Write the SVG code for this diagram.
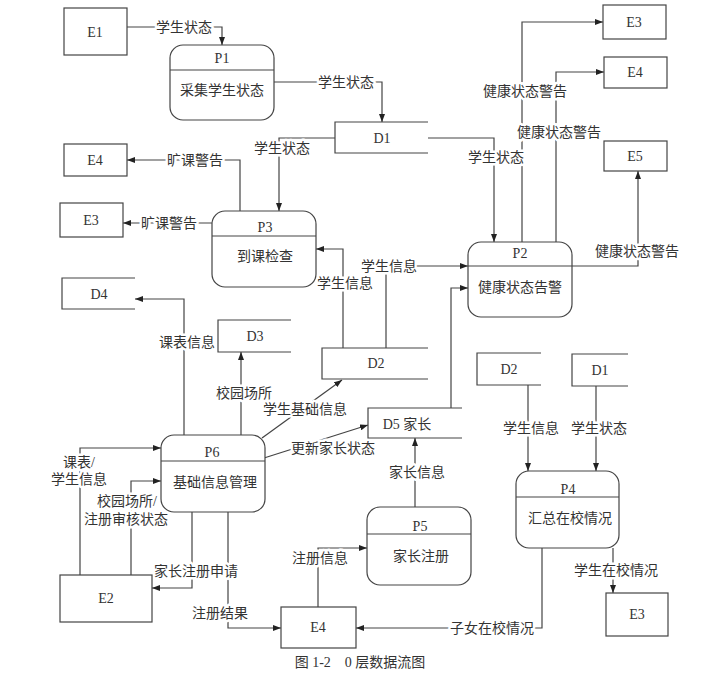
<svg xmlns="http://www.w3.org/2000/svg" width="725" height="674" viewBox="0 0 725 674">
<defs>
<marker id="arr" markerWidth="8" markerHeight="6" refX="8" refY="3" orient="auto" markerUnits="userSpaceOnUse">
<path d="M0,0 L8,3 L0,6 z" fill="#222"/>
</marker>
<style>
.box{fill:#fff;stroke:#444;stroke-width:1.2}
.line{fill:none;stroke:#444;stroke-width:1.2}
.conn{fill:none;stroke:#444;stroke-width:1.2;marker-end:url(#arr)}
text{font-family:"Liberation Serif","Noto Sans CJK SC",serif;font-size:14px;fill:#333;text-anchor:middle}
.lbl{stroke:#fff;stroke-width:5px;paint-order:stroke;stroke-linejoin:round}
</style>
</defs>
<rect width="725" height="674" fill="#fff"/>

<g id="connectors">
<path class="conn" d="M127,27 H222 V45"/>
<path class="conn" d="M274,82 H382 V122"/>
<path class="conn" d="M335,138 H279 V211"/>
<path class="conn" d="M428,138 H494 V242"/>
<path class="conn" d="M522,242 V22 H603"/>
<path class="conn" d="M556,242 V72 H604"/>
<path class="conn" d="M572,266 H638 V171"/>
<path class="conn" d="M240,211 V160 H127"/>
<path class="conn" d="M212,223 H123"/>
<path class="conn" d="M343,348 V249 H316"/>
<path class="conn" d="M386,348 V266 H468"/>
<path class="conn" d="M451,408 V288 H468"/>
<path class="conn" d="M184,435 V299 H135"/>
<path class="conn" d="M241,435 V352"/>
<path class="conn" d="M262,438 L342,380"/>
<path class="conn" d="M264,458 L368,425"/>
<path class="conn" d="M80,575 V448 H161"/>
<path class="conn" d="M131,575 V481 H161"/>
<path class="conn" d="M192,512 V588 H152"/>
<path class="conn" d="M228,512 V628 H281"/>
<path class="conn" d="M318,607 V548 H367"/>
<path class="conn" d="M415,507 V438"/>
<path class="conn" d="M528,385 V471"/>
<path class="conn" d="M596,386 V471"/>
<path class="conn" d="M542,548 V628 H356"/>
<path class="conn" d="M613,548 V593"/>

<text class="lbl" x="184" y="27" dy=".35em">学生状态</text>
<text class="lbl" x="346" y="82" dy=".35em">学生状态</text>
<text class="lbl" x="282" y="148" dy=".35em">学生状态</text>
<text class="lbl" x="496" y="157" dy=".35em">学生状态</text>
<text class="lbl" x="525" y="91" dy=".35em">健康状态警告</text>
<text class="lbl" x="559" y="132" dy=".35em">健康状态警告</text>
<text class="lbl" x="637" y="251" dy=".35em">健康状态警告</text>
<text class="lbl" x="195" y="160" dy=".35em">旷课警告</text>
<text class="lbl" x="169" y="223" dy=".35em">旷课警告</text>
<text class="lbl" x="345" y="283" dy=".35em">学生信息</text>
<text class="lbl" x="389" y="266" dy=".35em">学生信息</text>
<text class="lbl" x="187" y="342" dy=".35em">课表信息</text>
<text class="lbl" x="244" y="393" dy=".35em">校园场所</text>
<text class="lbl" x="305" y="409" dy=".35em">学生基础信息</text>
<text class="lbl" x="333" y="448" dy=".35em">更新家长状态</text>
<text class="lbl" x="79" y="462" dy=".35em">课表/</text>
<text class="lbl" x="79" y="479" dy=".35em">学生信息</text>
<text class="lbl" x="127" y="501" dy=".35em">校园场所/</text>
<text class="lbl" x="126" y="519" dy=".35em">注册审核状态</text>
<text class="lbl" x="196" y="571" dy=".35em">家长注册申请</text>
<text class="lbl" x="220" y="613" dy=".35em">注册结果</text>
<text class="lbl" x="320" y="558" dy=".35em">注册信息</text>
<text class="lbl" x="417" y="472" dy=".35em">家长信息</text>
<text class="lbl" x="531" y="428" dy=".35em">学生信息</text>
<text class="lbl" x="599" y="428" dy=".35em">学生状态</text>
<text class="lbl" x="492" y="628" dy=".35em">子女在校情况</text>
<text class="lbl" x="616" y="570" dy=".35em">学生在校情况</text>
</g>

<g id="E1"><rect class="box" x="64" y="8" width="63" height="47"/><text x="95" y="32" dy=".35em">E1</text></g>
<g id="E3a"><rect class="box" x="603" y="5" width="63" height="34"/><text x="634" y="22" dy=".35em">E3</text></g>
<g id="E4a"><rect class="box" x="604" y="57" width="63" height="31"/><text x="635" y="72" dy=".35em">E4</text></g>
<g id="E5"><rect class="box" x="604" y="141" width="63" height="30"/><text x="635" y="156" dy=".35em">E5</text></g>
<g id="E4b"><rect class="box" x="64" y="144" width="63" height="32"/><text x="95" y="160" dy=".35em">E4</text></g>
<g id="E3b"><rect class="box" x="60" y="203" width="63" height="34"/><text x="91" y="220" dy=".35em">E3</text></g>
<g id="E2"><rect class="box" x="60" y="575" width="92" height="47"/><text x="106" y="598" dy=".35em">E2</text></g>
<g id="E4c"><rect class="box" x="281" y="607" width="75" height="41"/><text x="318" y="627" dy=".35em">E4</text></g>
<g id="E3c"><rect class="box" x="606" y="593" width="62" height="43"/><text x="637" y="614" dy=".35em">E3</text></g>

<g id="P1"><rect class="box" x="170" y="45" width="104" height="75" rx="13"/><line class="line" x1="170" y1="70" x2="274" y2="70"/><text x="222" y="58" dy=".35em">P1</text><text x="222" y="90" dy=".35em">采集学生状态</text></g>
<g id="P2"><rect class="box" x="468" y="242" width="104" height="75" rx="13"/><line class="line" x1="468" y1="266" x2="572" y2="266"/><text x="520" y="253" dy=".35em">P2</text><text x="520" y="287" dy=".35em">健康状态告警</text></g>
<g id="P3"><rect class="box" x="212" y="211" width="104" height="76" rx="13"/><line class="line" x1="212" y1="236" x2="316" y2="236"/><text x="265" y="227" dy=".35em">P3</text><text x="265" y="256" dy=".35em">到课检查</text></g>
<g id="P6"><rect class="box" x="161" y="435" width="104" height="77" rx="13"/><line class="line" x1="161" y1="461" x2="265" y2="461"/><text x="212" y="452" dy=".35em">P6</text><text x="215" y="482" dy=".35em">基础信息管理</text></g>
<g id="P5"><rect class="box" x="367" y="507" width="104" height="78" rx="13"/><line class="line" x1="367" y1="534" x2="471" y2="534"/><text x="420" y="526" dy=".35em">P5</text><text x="421" y="556" dy=".35em">家长注册</text></g>
<g id="P4"><rect class="box" x="516" y="471" width="103" height="77" rx="13"/><line class="line" x1="516" y1="497" x2="619" y2="497"/><text x="568" y="489" dy=".35em">P4</text><text x="570" y="518" dy=".35em">汇总在校情况</text></g>

<g id="D1"><path class="line" d="M428,122 H335 V153 H428"/><text x="382" y="138" dy=".35em">D1</text></g>
<g id="D4"><path class="line" d="M135,278 H62 V309 H135"/><text x="99" y="294" dy=".35em">D4</text></g>
<g id="D3"><path class="line" d="M291,320 H218 V352 H291"/><text x="255" y="336" dy=".35em">D3</text></g>
<g id="D2"><path class="line" d="M428,348 H322 V379 H428"/><text x="376" y="363" dy=".35em">D2</text></g>
<g id="D5"><path class="line" d="M462,408 H368 V438 H462"/><text x="407" y="424" dy=".35em">D5 家长</text></g>
<g id="D2b"><path class="line" d="M541,353 H477 V385 H541"/><text x="509" y="369" dy=".35em">D2</text></g>
<g id="D1b"><path class="line" d="M628,354 H572 V386 H628"/><text x="600" y="370" dy=".35em">D1</text></g>

<text x="360" y="662" dy=".35em">图 1-2　0 层数据流图</text>
</svg>
